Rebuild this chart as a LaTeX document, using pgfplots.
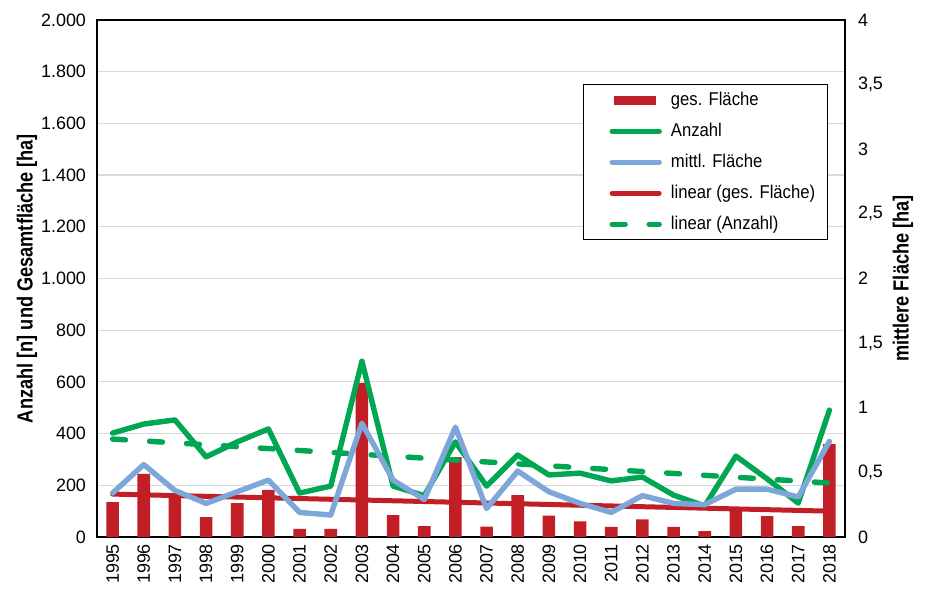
\documentclass[border=0pt]{standalone}
\usepackage{pgfplots}
\pgfplotsset{compat=1.18}
\usepackage{fontspec}
\setmainfont{Liberation Sans}
\newfontfamily\cond[FakeStretch=0.9]{Liberation Sans}
\newfontfamily\condb[FakeStretch=0.83]{Liberation Sans}
\definecolor{cred}{RGB}{193,30,38}
\definecolor{cgreen}{RGB}{0,166,81}
\definecolor{cblue}{RGB}{125,167,216}
\definecolor{cgrid}{RGB}{217,217,217}
\pgfplotsset{
  lineleg/.style={legend image code/.code={\path (0bp,0bp); \draw[##1] (7bp,0bp) -- (30.5bp,0bp);}},
  barleg/.style={legend image code/.code={\path (0bp,0bp); \fill[##1] (8bp,-2.35bp) rectangle (29bp,2.35bp);}},
}
\begin{document}
\begin{tikzpicture}
\begin{axis}[
  scale only axis, width=374bp, height=258.5bp,
  xmin=1994.5, xmax=2018.5, ymin=0, ymax=2000,
  xtick={1995,...,2018}, ytick={0,200,...,2000},
  ytick pos=left, major tick length=0pt,
  scaled y ticks=false,
  /pgf/number format/assume math mode=true,
  xticklabel style={/pgf/number format/1000 sep={}, rotate=90, anchor=east, font=\fontsize{9}{10}\selectfont, yshift=0bp},
  yticklabel style={/pgf/number format/1000 sep={.}, font=\fontsize{9}{10}\selectfont, xshift=-2bp},
  ymajorgrids, grid style={cgrid, line width=0.6bp},
  axis line style={black, line width=0.6bp},
  ylabel={Anzahl [n] und Gesamtfläche [ha]},
  ylabel style={at={(axis description cs:0,0.5)}, anchor=center, yshift=35bp, font=\condb\bfseries\fontsize{11}{12}\selectfont},
  legend style={at={(rel axis cs:0.977,0.876)}, anchor=north east, draw=black, line width=0.6bp, fill=white,
    inner xsep=6bp, inner ysep=0bp, row sep=0bp, column sep=4.5bp,
    font=\cond\fontsize{9.3}{11}\selectfont,
    nodes={inner sep=0pt, minimum height=15.5bp, anchor=west}},
  legend cell align=left,
]
\addplot[ybar, bar width=6.3bp, fill=cred, draw=none, barleg] coordinates {
(1995,135) (1996,244) (1997,170) (1998,77) (1999,131) (2000,182) (2001,31) (2002,31)
(2003,596) (2004,85) (2005,42) (2006,309) (2007,40) (2008,162) (2009,83) (2010,60)
(2011,39) (2012,68) (2013,39) (2014,23) (2015,110) (2016,81) (2017,42) (2018,359)};
\addlegendentry{ges. Fläche}
\addplot[cgreen, line width=2.7bp, line join=round, line cap=round, lineleg] coordinates {
(1995,402) (1996,437) (1997,453) (1998,310) (1999,368) (2000,418) (2001,170) (2002,197)
(2003,680) (2004,197) (2005,160) (2006,368) (2007,197) (2008,317) (2009,240) (2010,247)
(2011,217) (2012,232) (2013,162) (2014,120) (2015,313) (2016,225) (2017,131) (2018,491)};
\addlegendentry{Anzahl}
\addlegendimage{cblue, line width=2.7bp, line cap=round, lineleg}
\addlegendentry{mittl. Fläche}
\addplot[cred, line width=2.5bp, line cap=round, lineleg] coordinates {(1995,166) (2018,100)};
\addlegendentry{linear (ges. Fläche)}
\addplot[cgreen, line width=2.7bp, line cap=round, dash pattern=on 6.5bp off 12bp, lineleg] coordinates {(1995,379) (2018,209)};
\addlegendentry{linear (Anzahl)}
\end{axis}
\begin{axis}[
  scale only axis, width=374bp, height=258.5bp,
  xmin=1994.5, xmax=2018.5, ymin=0, ymax=4,
  axis x line=none, axis y line*=right,
  ytick={0,0.5,...,4}, major tick length=0pt,
  /pgf/number format/assume math mode=true,
  yticklabel style={/pgf/number format/use comma, font=\fontsize{9}{10}\selectfont, xshift=3bp},
  axis line style={black, line width=0.6bp},
  ylabel={mittlere Fläche [ha]},
  ylabel style={at={(axis description cs:1,0.5)}, anchor=center, yshift=-29bp, font=\condb\bfseries\fontsize{11}{12}\selectfont},
]
\addplot[cblue, line width=2.7bp, line join=round, line cap=round] coordinates {
(1995,0.34) (1996,0.56) (1997,0.36) (1998,0.26) (1999,0.35) (2000,0.44) (2001,0.19) (2002,0.17)
(2003,0.88) (2004,0.44) (2005,0.29) (2006,0.85) (2007,0.22) (2008,0.51) (2009,0.35) (2010,0.26)
(2011,0.19) (2012,0.32) (2013,0.26) (2014,0.25) (2015,0.37) (2016,0.37) (2017,0.31) (2018,0.74)};
\end{axis}
\pgfresetboundingbox
\path[use as bounding box] (-48.5bp,-26bp) rectangle (418bp,268.5bp);
\end{tikzpicture}
\end{document}
